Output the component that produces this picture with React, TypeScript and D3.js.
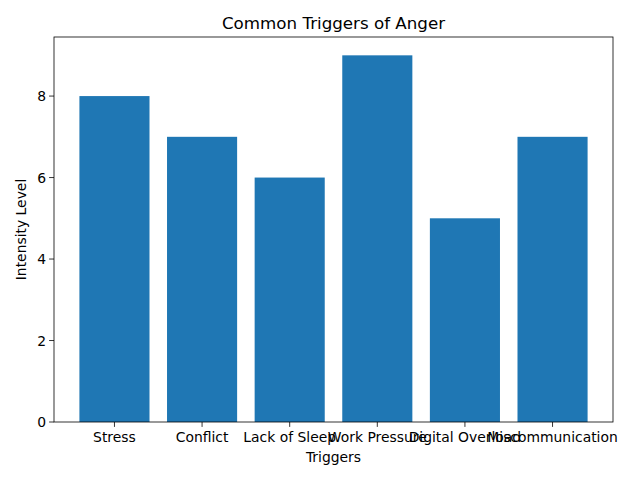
import React from "react";
import * as d3 from "d3";

const categories = ["Stress", "Conflict", "Lack of Sleep", "Work Pressure", "Digital Overload", "Miscommunication"];
const values = [8, 7, 6, 9, 5, 7];
const yTicks = [0, 2, 4, 6, 8];

export default function App() {
  const W = 640, H = 480;
  const left = 54, right = 613, top = 37, bottom = 422;
  const n = categories.length;
  const x = d3.scaleLinear().domain([-0.4 - 0.05 * (n - 0.2), n - 1 + 0.4 + 0.05 * (n - 0.2)]).range([left, right]);
  const y = d3.scaleLinear().domain([0, d3.max(values)! * 1.05]).range([bottom, top]);
  const font = "DejaVu Sans, sans-serif";
  return (
    <svg width={W} height={H} style={{ position: "absolute", left: 0, top: 0 }} fontFamily={font}>
      <rect width={W} height={H} fill="#fff" />
      {values.map((v, i) => (
        <rect key={i} x={x(i - 0.4)} y={y(v)} width={x(i + 0.4) - x(i - 0.4)} height={y(0) - y(v)} fill="#1f77b4" />
      ))}
      <rect x={left} y={top} width={right - left} height={bottom - top} fill="none" stroke="#000" strokeWidth={0.8} />
      {categories.map((c, i) => (
        <g key={c}>
          <line x1={x(i)} x2={x(i)} y1={bottom} y2={bottom + 4.9} stroke="#000" strokeWidth={0.8} />
          <text x={x(i)} y={bottom + 20} textAnchor="middle" fontSize={13.9}>{c}</text>
        </g>
      ))}
      {yTicks.map((t) => (
        <g key={t}>
          <line x1={left - 4.9} x2={left} y1={y(t)} y2={y(t)} stroke="#000" strokeWidth={0.8} />
          <text x={left - 8} y={y(t) + 5} textAnchor="end" fontSize={13.9}>{t}</text>
        </g>
      ))}
      <text x={(left + right) / 2} y={462} textAnchor="middle" fontSize={13.9}>Triggers</text>
      <text transform={`translate(26,${(top + bottom) / 2}) rotate(-90)`} textAnchor="middle" fontSize={13.9}>Intensity Level</text>
      <text x={(left + right) / 2} y={29} textAnchor="middle" fontSize={16.7}>Common Triggers of Anger</text>
    </svg>
  );
}
